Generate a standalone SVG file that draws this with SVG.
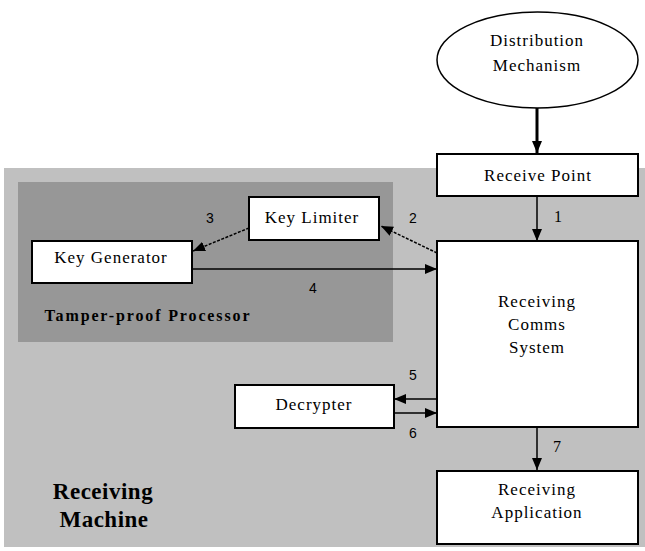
<svg xmlns="http://www.w3.org/2000/svg" width="645" height="551" viewBox="0 0 645 551">
<style>
.box{fill:#fff;stroke:#000;stroke-width:2}
.t{font-family:"Liberation Serif","Times New Roman",serif;font-size:17px;letter-spacing:1px;fill:#000;text-anchor:middle}
.n{font-family:"Liberation Sans",Arial,sans-serif;font-size:14px;fill:#000;text-anchor:middle}
.ns{font-family:"Liberation Serif","Times New Roman",serif;font-size:16px;fill:#000;text-anchor:middle}
.b{font-family:"Liberation Serif","Times New Roman",serif;font-weight:bold;fill:#000;text-anchor:middle}
.c{stroke:#000;stroke-width:1.5;fill:none}
.d{stroke-dasharray:3 1.5}
</style>
<defs>
<marker id="ah" viewBox="0 0 12 10" refX="12" refY="5" markerWidth="12" markerHeight="10" orient="auto" markerUnits="userSpaceOnUse"><path d="M0,0 L12,5 L0,10 z" fill="#000"/></marker>
</defs>
<rect width="645" height="551" fill="#fff"/>
<g id="receiving-machine">
<rect x="4" y="168" width="641" height="379" fill="#c0c0c0"/>
<text class="b" x="103" y="499" font-size="23" letter-spacing="0.5">Receiving</text>
<text class="b" x="104" y="527" font-size="23" letter-spacing="0.5">Machine</text>
</g>
<g id="tamper-proof-processor">
<rect x="18" y="182" width="375" height="160" fill="#979797"/>
<text class="b" x="147" y="321" font-size="16" textLength="205" lengthAdjust="spacing">Tamper-proof Processor</text>
</g>
<g id="distribution-mechanism">
<ellipse cx="537.5" cy="60" rx="100.5" ry="48" fill="#fff" stroke="#000" stroke-width="1.5"/>
<text class="t" x="537" y="46">Distribution</text>
<text class="t" x="537" y="71">Mechanism</text>
</g>
<g id="receive-point">
<rect class="box" x="437" y="154" width="201" height="42"/>
<text class="t" x="538" y="181">Receive Point</text>
</g>
<g id="key-limiter">
<rect class="box" x="249" y="197" width="130" height="43"/>
<text class="t" x="312" y="223">Key Limiter</text>
</g>
<g id="key-generator">
<rect class="box" x="32" y="241" width="160" height="42"/>
<text class="t" x="111" y="263">Key Generator</text>
</g>
<g id="receiving-comms-system">
<rect class="box" x="437" y="241" width="201" height="186"/>
<text class="t" x="537" y="307">Receiving</text>
<text class="t" x="537" y="330">Comms</text>
<text class="t" x="537" y="353">System</text>
</g>
<g id="decrypter">
<rect class="box" x="235" y="385" width="159" height="43"/>
<text class="t" x="314" y="410">Decrypter</text>
</g>
<g id="receiving-application">
<rect class="box" x="437" y="471" width="201" height="73"/>
<text class="t" x="537" y="495">Receiving</text>
<text class="t" x="537" y="518">Application</text>
</g>
<g id="connectors">
<line x1="537" y1="108" x2="537" y2="153" stroke="#000" stroke-width="3" marker-end="url(#ah)"/>
<line class="c" x1="537" y1="196" x2="537" y2="241" marker-end="url(#ah)"/>
<line class="c d" x1="437" y1="253" x2="381" y2="226" marker-end="url(#ah)"/>
<line class="c d" x1="249" y1="228" x2="193" y2="251" marker-end="url(#ah)"/>
<line class="c" x1="192" y1="269" x2="437" y2="269" marker-end="url(#ah)"/>
<line class="c" x1="437" y1="399" x2="394" y2="399" marker-end="url(#ah)"/>
<line class="c" x1="394" y1="413" x2="437" y2="413" marker-end="url(#ah)"/>
<line class="c" x1="537" y1="427" x2="537" y2="470" marker-end="url(#ah)"/>
<text class="ns" x="558" y="222">1</text>
<text class="n" x="413" y="223">2</text>
<text class="n" x="210" y="223">3</text>
<text class="n" x="313" y="293">4</text>
<text class="n" x="413" y="380">5</text>
<text class="n" x="413" y="438">6</text>
<text class="ns" x="557" y="452">7</text>
</g>
</svg>
